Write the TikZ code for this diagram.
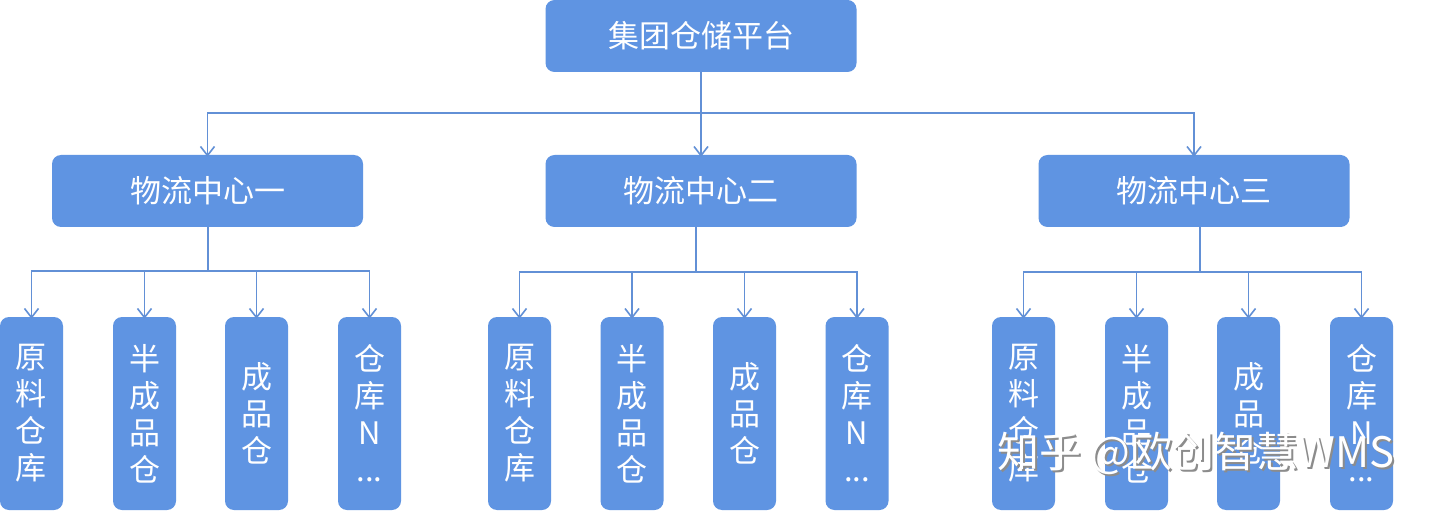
\documentclass[tikz,border=0pt]{standalone}
\usepackage{fontspec}
\setmainfont{Noto Sans CJK SC}
\usetikzlibrary{arrows.meta}
\definecolor{boxblue}{RGB}{95,148,226}
\definecolor{lineblue}{RGB}{98,144,214}
\definecolor{wmshadow}{RGB}{140,140,140}
\begin{document}
\begin{tikzpicture}[x=1pt,y=-1pt,
  box/.style={fill=boxblue, rounded corners=9pt, text=white, inner sep=0pt},
  wide/.style={box, minimum width=311pt, minimum height=72pt, font=\fontsize{31}{36}\selectfont},
  tall/.style={box, minimum width=63pt, minimum height=193pt, align=center, font=\fontsize{31}{37}\selectfont},
  conn/.style={draw=lineblue, line width=1.8pt},
  arr/.style={conn, -{Straight Barb[length=9pt,width=14pt,line width=1.6pt]}},
  wm/.style={font=\fontsize{42}{44}\selectfont, anchor=west, inner sep=0pt}]

\useasboundingbox (0,0) rectangle (1440,513);
\fill[white] (0,0) rectangle (1440,513);

% top and middle level
\node[wide] (top) at (701,36) {集团仓储平台};
\node[wide] (c1) at (207.5,191) {物流中心一};
\node[wide] (c2) at (701,191) {物流中心二};
\node[wide] (c3) at (1194,191) {物流中心三};

% bottom level
\node[tall] (b1a) at (31.5,413.5) {原\\料\\仓\\库};
\node[tall] (b1b) at (144.5,413.5) {半\\成\\品\\仓};
\node[tall] (b1c) at (256.5,413.5) {成\\品\\仓};
\node[tall] (b1d) at (369.5,413.5) {仓\\库\\N\\...};

\node[tall] (b2a) at (519.5,413.5) {原\\料\\仓\\库};
\node[tall] (b2b) at (632,413.5) {半\\成\\品\\仓};
\node[tall] (b2c) at (744.5,413.5) {成\\品\\仓};
\node[tall] (b2d) at (857,413.5) {仓\\库\\N\\...};

\node[tall] (b3a) at (1023.5,413.5) {原\\料\\仓\\库};
\node[tall] (b3b) at (1136.5,413.5) {半\\成\\品\\仓};
\node[tall] (b3c) at (1248.5,413.5) {成\\品\\仓};
\node[tall] (b3d) at (1361.5,413.5) {仓\\库\\N\\...};

% junction points
\coordinate (j0) at (701,113);
\coordinate (j1) at (208,271);
\coordinate (j2) at (696,272);
\coordinate (j3) at (1200,272);

% top -> centres
\draw[arr] (top.south) -- ([yshift=-2pt]c2.north);
\draw[arr] (j0) -| ([yshift=-2pt]c1.north);
\draw[arr] (j0) -| ([yshift=-2pt]c3.north);

% centre one
\draw[conn] (j1 |- c1.south) -- (j1);
\foreach \b in {b1a,b1b,b1c,b1d} \draw[arr] (j1) -| ([yshift=-2pt]\b.north);
% centre two
\draw[conn] (j2 |- c2.south) -- (j2);
\foreach \b in {b2a,b2b,b2c,b2d} \draw[arr] (j2) -| ([yshift=-2pt]\b.north);
% centre three
\draw[conn] (j3 |- c3.south) -- (j3);
\foreach \b in {b3a,b3b,b3c,b3d} \draw[arr] (j3) -| ([yshift=-2pt]\b.north);

% watermark
\node[wm, text=wmshadow] (wms) at (999,455) {知乎 @欧创智慧WMS};
\node[wm, text=white] (wm) at (997,453) {知乎 @欧创智慧WMS};
\end{tikzpicture}
\end{document}
